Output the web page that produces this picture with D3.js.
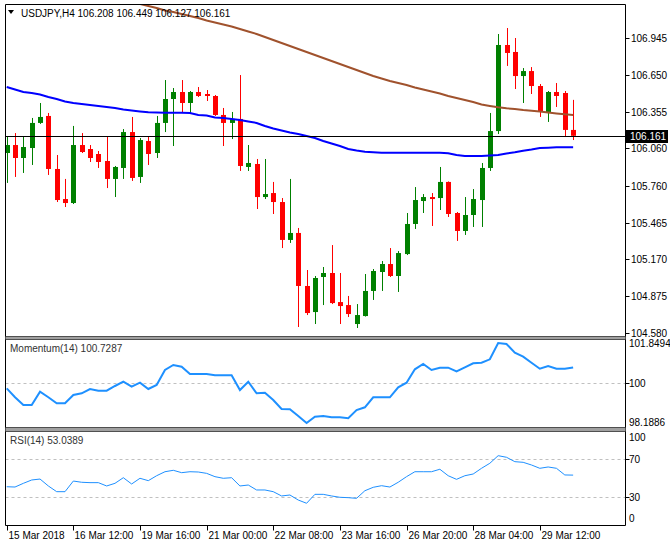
<!DOCTYPE html>
<html><head><meta charset="utf-8">
<script src="https://cdn.jsdelivr.net/npm/d3@7"></script>
<style>
html,body{margin:0;padding:0;background:#fff;}
svg text{font-family:"Liberation Sans",Arial,sans-serif;font-size:10px;}
</style></head>
<body><svg id="c" width="670" height="551"></svg>
<script>
// ---------------- DATA ----------------
const symbol = "USDJPY,H4";
const lastOHLC = [106.208, 106.449, 106.127, 106.161];
const tickIndex = [0, 8, 16, 24, 32, 40, 48, 56, 64];
const tickLabels = ["15 Mar 2018","16 Mar 12:00","19 Mar 16:00","21 Mar 00:00","22 Mar 08:00","23 Mar 16:00","26 Mar 20:00","28 Mar 04:00","29 Mar 12:00"];
const priceTicks = [106.945, 106.650, 106.355, 106.060, 105.760, 105.465, 105.170, 104.875, 104.580];
const currentPrice = 106.161;

const open = [106.023,106.087,105.983,106.063,106.264,106.320,105.895,105.654,105.622,106.087,106.055,106.015,105.959,105.815,105.903,106.191,105.831,106.119,106.023,106.264,
106.456,106.512,106.424,106.512,106.496,106.480,106.328,106.264,106.296,105.911,105.935,105.670,105.702,105.630,105.326,105.382,104.957,104.748,105.029,105.061,
104.828,104.804,104.652,104.716,104.917,105.069,105.133,105.037,105.213,105.454,105.638,105.670,105.662,105.791,105.542,105.398,105.526,105.646,105.903,106.199,
106.889,106.833,106.640,106.680,106.560,106.352,106.512,106.504,106.208];
const high = [106.159,106.183,106.159,106.304,106.424,106.344,106.007,105.815,106.240,106.183,106.087,106.039,106.159,105.919,106.215,106.312,106.143,106.159,106.320,106.608,
106.544,106.608,106.520,106.552,106.528,106.488,106.384,106.352,106.648,106.087,105.975,105.975,105.791,105.662,105.815,105.422,105.085,105.037,105.109,105.285,
105.061,104.877,104.812,105.053,105.093,105.157,105.261,105.237,105.542,105.750,105.694,105.702,105.911,105.795,105.550,105.670,105.734,105.943,106.344,106.977,
107.025,106.945,106.704,106.712,106.576,106.520,106.584,106.520,106.449];
const low = [105.783,105.831,105.863,105.927,106.256,105.847,105.630,105.590,105.614,106.023,105.951,105.903,105.742,105.670,105.815,105.799,105.783,105.927,105.983,106.191,
106.079,106.344,106.344,106.472,106.440,106.320,106.079,106.135,105.879,105.879,105.574,105.654,105.534,105.261,105.302,104.628,104.724,104.652,104.804,104.812,
104.652,104.708,104.620,104.712,104.845,104.917,105.029,104.909,105.205,105.414,105.542,105.438,105.566,105.510,105.318,105.366,105.430,105.430,105.879,106.175,
106.721,106.536,106.424,106.496,106.312,106.272,106.392,106.151,106.127];
const close = [106.087,105.983,106.071,106.264,106.312,105.895,105.646,105.622,106.087,106.031,105.983,105.951,105.815,105.911,106.191,105.823,106.127,106.015,106.264,106.456,
106.512,106.424,106.512,106.480,106.480,106.328,106.264,106.296,105.919,105.943,105.670,105.694,105.630,105.326,105.382,104.957,104.740,105.021,105.061,104.820,
104.796,104.732,104.724,104.917,105.077,105.133,105.037,105.221,105.454,105.646,105.670,105.654,105.791,105.534,105.398,105.526,105.654,105.903,106.199,106.889,
106.825,106.640,106.680,106.560,106.352,106.512,106.480,106.208,106.161];

// blue moving average (every bar)
const maBlue = [106.552,106.532,106.512,106.504,106.492,106.472,106.456,106.436,106.424,106.416,106.408,106.400,106.392,106.384,106.372,106.364,106.356,106.349,106.348,106.346,
106.346,106.346,106.344,106.328,106.324,106.308,106.304,106.296,106.288,106.276,106.264,106.240,106.219,106.203,106.187,106.175,106.159,106.143,106.119,106.099,
106.079,106.055,106.043,106.033,106.029,106.025,106.025,106.025,106.025,106.025,106.025,106.025,106.025,106.021,106.007,105.999,105.999,105.999,106.003,106.007,
106.019,106.029,106.041,106.051,106.063,106.066,106.069,106.069,106.069];
// brown moving average, starting at bar 16
const maBrownStart = 16;
const maBrown = [107.218,107.202,107.186,107.165,107.153,107.137,107.121,107.105,107.085,107.069,107.053,107.037,107.017,106.997,106.977,106.953,106.929,106.905,106.881,106.857,
106.833,106.809,106.785,106.761,106.737,106.713,106.688,106.664,106.640,106.620,106.600,106.584,106.568,106.548,106.532,106.516,106.500,106.480,106.464,106.448,
106.432,106.412,106.400,106.389,106.381,106.376,106.368,106.362,106.356,106.348,106.340,106.333,106.328];

const momentumLabel = "Momentum(14) 100.7287";
const momentum = [99.776,99.365,99.012,99.012,99.621,99.365,99.090,99.090,99.470,99.548,99.745,99.667,99.667,99.882,100.079,99.850,100.033,99.745,99.928,100.614,
100.843,100.765,100.431,100.431,100.431,100.371,100.371,100.371,99.699,100.079,99.548,99.575,99.241,98.829,98.815,98.509,98.1886,98.477,98.509,98.449,
98.449,98.404,98.783,98.907,99.365,99.365,99.365,99.822,100.033,100.646,100.888,100.614,100.719,100.719,100.554,100.737,100.920,100.948,101.103,101.8494,
101.804,101.405,101.222,100.948,100.673,100.797,100.673,100.673,100.7287];
const momentumTicks = [101.8494, 100, 98.1886];

const rsiLabel = "RSI(14) 53.0389";
const rsi = [40.8,40.5,44.4,47.9,48.9,41.6,35.6,35.6,46.8,45.5,45.1,45.1,41.6,44.4,50.3,43.7,49.7,47.2,52.4,56.6,
58.1,55.6,56.6,56.3,54.9,51.4,49.7,50.3,41.6,42.6,37.4,37.4,35.6,31.1,32.1,26.8,23.4,32.8,32.8,31.1,
29.7,29.3,28.6,36.6,40.2,41.9,40.5,45.5,51.4,56.6,56.6,56.6,59.2,52.4,48.6,52.4,54.2,60.2,65.5,73.5,
71.8,67.2,66.5,63.7,60.2,61.6,60.2,53.2,53.0389];
const rsiTicks = [100, 70, 30, 0];
const rsiLevels = [70, 30];

// ---------------- LAYOUT ----------------
const W = 670, H = 551;
const L = 5.5, R = 625.5;
const main = {top: 4.5, bottom: 336.5};
const mom = {top: 339.5, bottom: 427.5};
const rs = {top: 431.5, bottom: 525.5};

const svg = d3.select("#c");
const n = close.length;
const x = d3.scaleLinear().domain([0, n - 1]).range([6.7, 6.7 + 8.33 * (n - 1)]);
const y = d3.scaleLinear().domain([104.58, 106.945]).range([333, 38]);
const ym = d3.scaleLinear().domain([98.1886, 101.8494]).range([423, 343]);
const yr = d3.scaleLinear().domain([0, 100]).range([525.5, 430.5]);

const defs = svg.append("defs");
function clip(id, top, bottom){
  defs.append("clipPath").attr("id", id).append("rect")
    .attr("x", L + 0.5).attr("y", top + 0.5).attr("width", R - L - 1).attr("height", bottom - top - 1);
}
clip("cm", main.top, main.bottom); clip("cmo", mom.top, mom.bottom); clip("cr", rs.top, rs.bottom);

// ---------- main panel ----------
const gMain = svg.append("g").attr("clip-path", "url(#cm)");
const idx = d3.range(n);
const up = i => close[i] >= open[i];
const col = i => up(i) ? "#008000" : "#ff0000";

gMain.selectAll("line.wick").data(idx).join("line").attr("class","wick")
  .attr("x1", i => Math.round(x(i)) + 0.5).attr("x2", i => Math.round(x(i)) + 0.5)
  .attr("y1", i => y(high[i])).attr("y2", i => y(low[i]))
  .attr("stroke", col).attr("stroke-width", 1);
gMain.selectAll("rect.body").data(idx).join("rect").attr("class","body")
  .attr("x", i => Math.round(x(i)) - 2).attr("width", 5)
  .attr("y", i => y(Math.max(open[i], close[i])))
  .attr("height", i => Math.max(1, Math.abs(y(open[i]) - y(close[i]))))
  .attr("fill", col);

const lineMain = d3.line().x((d, i) => x(i)).y(d => y(d));
gMain.append("path").attr("d", lineMain(maBlue)).attr("fill","none").attr("stroke","#0000ff").attr("stroke-width",2);
gMain.append("path").attr("d", d3.line().x((d, i) => x(i + maBrownStart)).y(d => y(d))(maBrown))
  .attr("fill","none").attr("stroke","#a0522d").attr("stroke-width",2);

// current price line
svg.append("line").attr("x1", L).attr("x2", R).attr("y1", Math.round(y(currentPrice)) + 0.5).attr("y2", Math.round(y(currentPrice)) + 0.5)
  .attr("stroke","#000").attr("stroke-width",1);

// header
svg.append("path").attr("d","M8,10 L14,10 L11,14 Z").attr("fill","#000");
svg.append("text").attr("x", 21).attr("y", 17).attr("fill","#000")
  .text(symbol + "  " + lastOHLC.map(v => v.toFixed(3)).join(" "));

// price axis
const pa = svg.append("g");
priceTicks.forEach(v => {
  const yy = Math.round(y(v)) + 0.5;
  pa.append("line").attr("x1", R).attr("x2", R + 4).attr("y1", yy).attr("y2", yy).attr("stroke","#000");
  pa.append("text").attr("x", 631).attr("y", yy + 3.5).attr("fill","#000").text(v.toFixed(3));
});
const cy = Math.round(y(currentPrice));
pa.append("rect").attr("x", 626).attr("y", cy - 6).attr("width", 42).attr("height", 13).attr("fill","#000");
pa.append("text").attr("x", 630).attr("y", cy + 4).attr("fill","#fff").text(currentPrice.toFixed(3));

// ---------- momentum ----------
const gMo = svg.append("g");
gMo.append("line").attr("x1", L).attr("x2", R).attr("y1", Math.round(ym(100)) + 0.5).attr("y2", Math.round(ym(100)) + 0.5)
  .attr("stroke","#c0c0c0").attr("stroke-dasharray","3,3");
gMo.append("path").attr("clip-path","url(#cmo)")
  .attr("d", d3.line().x((d, i) => x(i)).y(d => ym(d))(momentum))
  .attr("fill","none").attr("stroke","#1e90ff").attr("stroke-width",2);
gMo.append("text").attr("x", 10).attr("y", 352).attr("fill","#333").text(momentumLabel);
momentumTicks.forEach((v, k) => {
  const yy = ym(v);
  const lbl = k === 1 ? "100" : v.toFixed(4);
  gMo.append("text").attr("x", 629).attr("y", yy + 3.5 + (k === 0 ? 0 : (k === 2 ? -1 : 0))).attr("fill","#000").text(lbl);
});
gMo.append("line").attr("x1", R).attr("x2", R + 4).attr("y1", Math.round(ym(100)) + 0.5).attr("y2", Math.round(ym(100)) + 0.5).attr("stroke","#000");

// ---------- RSI ----------
const gR = svg.append("g");
rsiLevels.forEach(v => {
  gR.append("line").attr("x1", L).attr("x2", R).attr("y1", Math.round(yr(v)) + 0.5).attr("y2", Math.round(yr(v)) + 0.5)
    .attr("stroke","#c0c0c0").attr("stroke-dasharray","3,3");
  gR.append("line").attr("x1", R).attr("x2", R + 4).attr("y1", Math.round(yr(v)) + 0.5).attr("y2", Math.round(yr(v)) + 0.5).attr("stroke","#000");
});
gR.append("path").attr("clip-path","url(#cr)")
  .attr("d", d3.line().x((d, i) => x(i)).y(d => yr(d))(rsi))
  .attr("fill","none").attr("stroke","#1e90ff").attr("stroke-width",1);
gR.append("text").attr("x", 10).attr("y", 444).attr("fill","#333").text(rsiLabel);
rsiTicks.forEach(v => {
  let yy = yr(v);
  if (v === 100) yy += 7;
  if (v === 0) yy -= 7;
  gR.append("text").attr("x", 629).attr("y", yy + 3.5).attr("fill","#000").text(String(v));
});

// ---------- frames ----------
const fr = svg.append("g").attr("fill","none").attr("stroke","#000");
fr.append("line").attr("x1", L).attr("x2", L).attr("y1", main.top).attr("y2", rs.bottom);
fr.append("line").attr("x1", R).attr("x2", R).attr("y1", main.top).attr("y2", rs.bottom);
fr.append("line").attr("x1", L).attr("x2", R).attr("y1", main.top).attr("y2", main.top);
[[main.bottom, mom.top], [mom.bottom, rs.top]].forEach(([a, b]) => {
  svg.append("rect").attr("x", L).attr("y", a).attr("width", R - L).attr("height", b - a).attr("fill","#a0a0a0");
  fr.append("line").attr("x1", L).attr("x2", R).attr("y1", a).attr("y2", a);
  fr.append("line").attr("x1", L).attr("x2", R).attr("y1", b).attr("y2", b);
});
fr.append("line").attr("x1", L).attr("x2", R).attr("y1", rs.bottom).attr("y2", rs.bottom);

// time axis
const ta = svg.append("g");
tickIndex.forEach((ti, k) => {
  const xx = Math.round(x(ti)) + 0.5;
  ta.append("line").attr("x1", xx).attr("x2", xx).attr("y1", rs.bottom).attr("y2", rs.bottom + 5).attr("stroke","#000");
  ta.append("text").attr("x", xx + 1).attr("y", 539).attr("fill","#000").text(tickLabels[k]);
});
</script></body></html>
